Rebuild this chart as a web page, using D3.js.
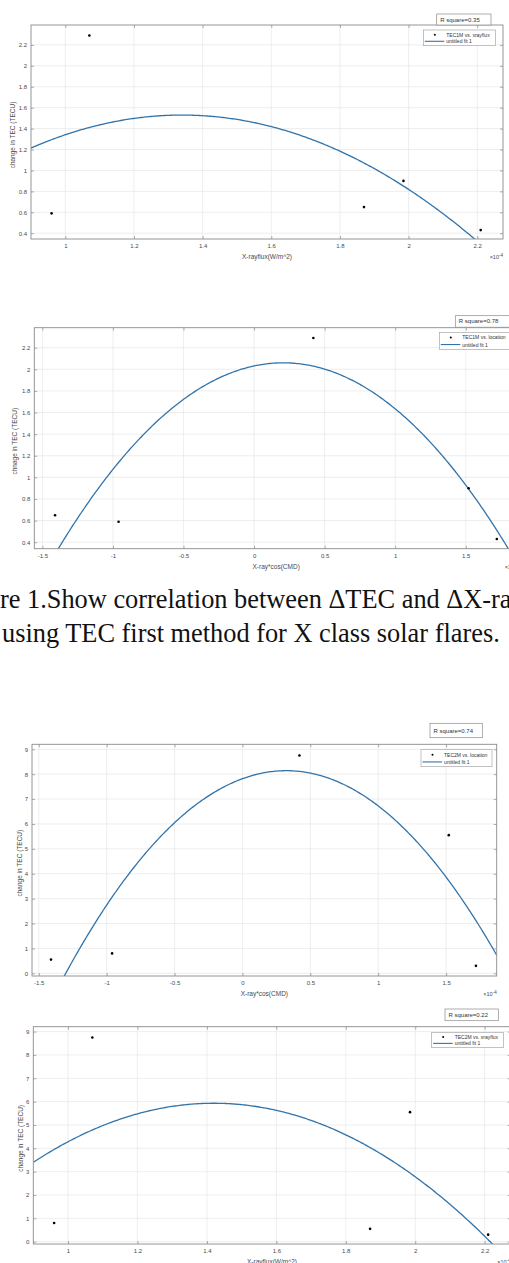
<!DOCTYPE html>
<html>
<head>
<meta charset="utf-8" />
<title>Change in TEC vs X-ray flux</title>
<script src="https://d3js.org/d3.v7.min.js"></script>
<style>
  body { margin: 0; background: #ffffff; overflow: hidden; }
  svg { display: block; font-family: "Liberation Sans", Arial, sans-serif; }
</style>
</head>
<body>
<svg id="viz"></svg>
<script>
// five X class flares, same order in every array
var xrayFlux   = [0.96, 1.07, 1.87, 1.985, 2.21];   // x 10^-4 W/m^2
var xrayCosCMD = [-0.96, 0.42, -1.41, 1.52, 1.72];  // x 10^-4
var tec1M      = [0.59, 2.29, 0.65, 0.90, 0.43];
var tec2M      = [0.80, 8.75, 0.55, 5.55, 0.30];

// quadratic fits  p1*x^2 + p2*x + p3
var fitTec1Flux = [-1.63, 4.368, -1.397];
var fitTec1Cmd  = [-0.677, 0.2803, 2.031];
var fitTec2Cmd  = [-3.085, 1.993, 7.818];
var fitTec2Flux = [-9.36, 26.58, -12.94];

var rSquare = ["0.35", "0.78", "0.74", "0.22"];

// tick labels
var fluxTicks = [1, 1.2, 1.4, 1.6, 1.8, 2, 2.2];
var cmdTicks  = [-1.5, -1, -0.5, 0, 0.5, 1, 1.5];
var tec1Ticks = [0.4, 0.6, 0.8, 1, 1.2, 1.4, 1.6, 1.8, 2, 2.2];
var tec2Ticks = [0, 1, 2, 3, 4, 5, 6, 7, 8, 9];

var W = 509, H = 1263;
var svg = d3.select("#viz").attr("width", W).attr("height", H);
svg.append("rect").attr("width", W).attr("height", H).attr("fill", "#fff");

// layout of each panel (pixel boxes), data comes from the arrays above
var panels = [
  { xs: xrayFlux, ys: tec1M, fit: fitTec1Flux, xDom: [0.9, 2.275], yDom: [0.345, 2.39],
    xt: fluxTicks, yt: tec1Ticks, l: 31, r: 503, t: 25, b: 239,
    xlabel: "X-rayflux(W/m^2)", ylabel: "change in TEC (TECU)", ylx: 12,
    legName: "TEC1M vs. xrayflux", r2: rSquare[0],
    rbox: [436.7, 14, 54.3, 11], leg: [423.3, 30, 72.4, 15.7] },
  { xs: xrayCosCMD, ys: tec1M, fit: fitTec1Cmd, xDom: [-1.557, 1.87], yDom: [0.34, 2.385],
    xt: cmdTicks, yt: tec1Ticks, l: 34.3, r: 518, t: 327.7, b: 548.7,
    xlabel: "X-ray*cos(CMD)", ylabel: "chnage in TEC (TECU)", ylx: 14.5,
    legName: "TEC1M vs. location", r2: rSquare[1],
    rbox: [455.3, 315.7, 57, 11.5], leg: [439.3, 332.3, 76, 17] },
  { xs: xrayCosCMD, ys: tec2M, fit: fitTec2Cmd, xDom: [-1.55, 1.873], yDom: [-0.108, 9.2],
    xt: cmdTicks, yt: tec2Ticks, l: 32, r: 496.7, t: 744.3, b: 976,
    xlabel: "X-ray*cos(CMD)", ylabel: "change in TEC (TECU)", ylx: 19,
    legName: "TEC2M vs. location", r2: rSquare[2],
    rbox: [430, 723.3, 52.3, 14.4], leg: [421, 749.7, 71, 17] },
  { xs: xrayFlux, ys: tec2M, fit: fitTec2Flux, xDom: [0.9, 2.275], yDom: [-0.1, 9.21],
    xt: fluxTicks, yt: tec2Ticks, l: 33.3, r: 510.7, t: 1026.7, b: 1244,
    xlabel: "X-rayflux(W/m^2)", ylabel: "change in TEC (TECU)", ylx: 20,
    legName: "TEC2M vs. xrayflux", r2: rSquare[3],
    rbox: [445, 1009, 53.3, 11.7], leg: [431.7, 1032.3, 71.6, 15.4] }
];

var fitColor = "#3274aa";
var axisColor = "#8a8a8a";
var textColor = "#4a4a4a";

panels.forEach(function(p, i) {
  var g = svg.append("g");
  var x = d3.scaleLinear().domain(p.xDom).range([p.l, p.r]);
  var y = d3.scaleLinear().domain(p.yDom).range([p.b, p.t]);

  g.append("clipPath").attr("id", "clip" + i)
    .append("rect").attr("x", p.l).attr("y", p.t)
    .attr("width", p.r - p.l).attr("height", p.b - p.t);

  // grid
  g.selectAll(".gx").data(p.xt).enter().append("line")
    .attr("x1", d => x(d)).attr("x2", d => x(d))
    .attr("y1", p.t).attr("y2", p.b)
    .attr("stroke", "#e6e6e6").attr("stroke-width", 0.7);
  g.selectAll(".gy").data(p.yt).enter().append("line")
    .attr("x1", p.l).attr("x2", p.r)
    .attr("y1", d => y(d)).attr("y2", d => y(d))
    .attr("stroke", "#e6e6e6").attr("stroke-width", 0.7);

  // fit curve
  var xsFine = d3.range(0, 301).map(k => p.xDom[0] + (p.xDom[1] - p.xDom[0]) * k / 300);
  var line = d3.line()
    .x(d => x(d))
    .y(d => y(p.fit[0] * d * d + p.fit[1] * d + p.fit[2]));
  g.append("path").datum(xsFine)
    .attr("clip-path", "url(#clip" + i + ")")
    .attr("d", line).attr("fill", "none")
    .attr("stroke", fitColor).attr("stroke-width", 1.3);

  // data points
  g.selectAll(".pt").data(p.xs).enter().append("circle")
    .attr("cx", d => x(d)).attr("cy", (d, k) => y(p.ys[k]))
    .attr("r", 1.3).attr("fill", "#000");

  // axes with inward ticks on all sides
  function style(sel) {
    sel.select(".domain").remove();
    sel.selectAll("line").attr("stroke", axisColor).attr("stroke-width", 0.7);
    sel.selectAll("text").attr("fill", textColor)
      .attr("font-size", 6).attr("font-family", "Liberation Sans, Arial, sans-serif");
  }
  g.append("g").attr("transform", "translate(0," + p.b + ")")
    .call(d3.axisBottom(x).tickValues(p.xt).tickFormat(d => String(d))
      .tickSizeInner(-3).tickSizeOuter(0).tickPadding(5))
    .call(style);
  g.append("g").attr("transform", "translate(0," + p.t + ")")
    .call(d3.axisTop(x).tickValues(p.xt).tickFormat("")
      .tickSizeInner(-3).tickSizeOuter(0))
    .call(style);
  g.append("g").attr("transform", "translate(" + p.l + ",0)")
    .call(d3.axisLeft(y).tickValues(p.yt).tickFormat(d => String(d))
      .tickSizeInner(-3).tickSizeOuter(0).tickPadding(4))
    .call(style);
  g.append("g").attr("transform", "translate(" + p.r + ",0)")
    .call(d3.axisRight(y).tickValues(p.yt).tickFormat("")
      .tickSizeInner(-3).tickSizeOuter(0))
    .call(style);

  g.append("rect").attr("x", p.l).attr("y", p.t)
    .attr("width", p.r - p.l).attr("height", p.b - p.t)
    .attr("fill", "none").attr("stroke", axisColor).attr("stroke-width", 0.9);

  // axis labels
  g.append("text").attr("x", (p.l + p.r) / 2).attr("y", p.b + 17.5)
    .attr("text-anchor", "middle").attr("dominant-baseline", "central")
    .attr("font-size", 6.5).attr("fill", textColor).text(p.xlabel);
  var ex = g.append("text").attr("x", p.r).attr("y", p.b + 20)
    .attr("text-anchor", "end").attr("font-size", 5.5).attr("fill", textColor);
  ex.append("tspan").text("\u00d710");
  ex.append("tspan").attr("dy", -2.5).attr("font-size", 4.5).text("-4");
  g.append("text")
    .attr("transform", "translate(" + p.ylx + "," + ((p.t + p.b) / 2 + 3) + ") rotate(-90)")
    .attr("text-anchor", "middle").attr("dominant-baseline", "central")
    .attr("font-size", 6.5).attr("fill", textColor).text(p.ylabel);

  // R square annotation
  g.append("rect").attr("x", p.rbox[0]).attr("y", p.rbox[1])
    .attr("width", p.rbox[2]).attr("height", p.rbox[3])
    .attr("fill", "#fff").attr("stroke", "#8a8a8a").attr("stroke-width", 0.7);
  g.append("text").attr("x", p.rbox[0] + 3.5).attr("y", p.rbox[1] + p.rbox[3] / 2)
    .attr("dominant-baseline", "central").attr("font-size", 6)
    .attr("fill", "#333").text("R square=" + p.r2);

  // legend
  var lg = p.leg;
  g.append("rect").attr("x", lg[0]).attr("y", lg[1]).attr("width", lg[2]).attr("height", lg[3])
    .attr("fill", "#fff").attr("stroke", "#9a9a9a").attr("stroke-width", 0.6);
  var row1 = lg[1] + lg[3] * 0.3, row2 = lg[1] + lg[3] * 0.72;
  g.append("circle").attr("cx", lg[0] + 11.5).attr("cy", row1).attr("r", 1).attr("fill", "#000");
  g.append("line").attr("x1", lg[0] + 1.5).attr("x2", lg[0] + 21)
    .attr("y1", row2).attr("y2", row2).attr("stroke", fitColor).attr("stroke-width", 1.1);
  g.append("text").attr("x", lg[0] + 23).attr("y", row1).attr("dominant-baseline", "central")
    .attr("font-size", 5).attr("fill", "#333").text(p.legName);
  g.append("text").attr("x", lg[0] + 23).attr("y", row2).attr("dominant-baseline", "central")
    .attr("font-size", 5).attr("fill", "#333").text("untitled fit 1");
});

// caption (serif, partly cut by the page edge)
var cap1 = "Figure 1.Show correlation between \u0394TEC and \u0394X-ray flux";
var cap2 = "using TEC first method for X class solar flares.";
var probe = svg.append("text").attr("font-family", "Liberation Serif, Times New Roman, serif")
  .attr("font-size", 100).text(cap2);
var fs = 100 * 498 / probe.node().getComputedTextLength();
probe.text("Figu");
var cut = probe.node().getComputedTextLength() * fs / 100;
probe.remove();

svg.append("text").attr("x", -cut).attr("y", 607.5)
  .attr("font-family", "Liberation Serif, Times New Roman, serif")
  .attr("font-size", fs).attr("fill", "#111").text(cap1);
svg.append("text").attr("x", 2).attr("y", 641.7)
  .attr("font-family", "Liberation Serif, Times New Roman, serif")
  .attr("font-size", fs).attr("fill", "#111").text(cap2);
</script>
</body>
</html>
